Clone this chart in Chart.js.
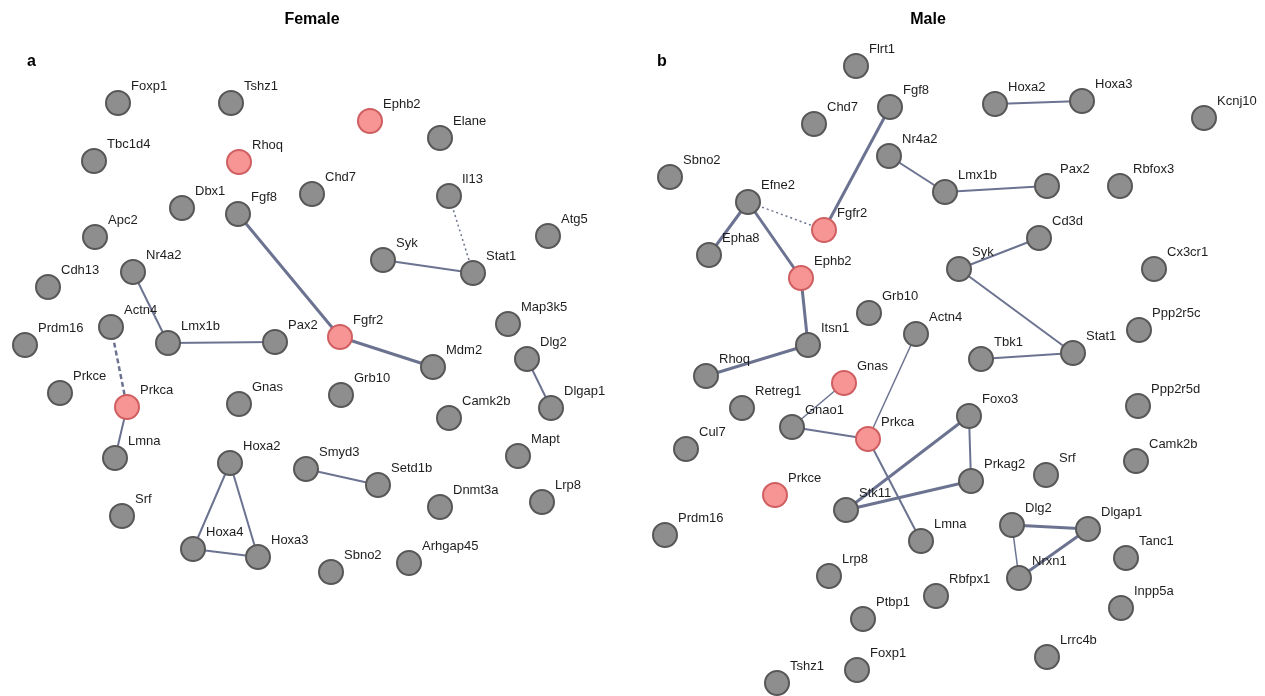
<!DOCTYPE html>
<html><head><meta charset="utf-8">
<script src="https://cdn.jsdelivr.net/npm/chart.js@4.4.0/dist/chart.umd.min.js"></script>
<style>
html,body{margin:0;padding:0;background:#fff;}
#wrap{position:relative;width:1265px;height:696px;overflow:hidden;}
.panel{position:absolute;top:0;}
</style></head><body>
<div id="wrap">
<div class="panel" style="left:0;"><canvas id="cf" width="632" height="696"></canvas></div>
<div class="panel" style="left:632px;"><canvas id="cm" width="633" height="696"></canvas></div>
</div>
<script>
// ---------- Female network (panel a) ----------
const femaleGenes = ["Foxp1","Tshz1","Tbc1d4","Rhoq","Ephb2","Elane","Dbx1","Fgf8","Chd7","Il13","Apc2","Atg5","Nr4a2","Syk","Stat1","Cdh13","Map3k5","Actn4","Prdm16","Lmx1b","Pax2","Fgfr2","Dlg2","Mdm2","Prkce","Prkca","Gnas","Grb10","Dlgap1","Camk2b","Lmna","Hoxa2","Smyd3","Mapt","Setd1b","Dnmt3a","Lrp8","Srf","Hoxa4","Hoxa3","Sbno2","Arhgap45"];
const femaleX = [118,231,94,239,370,440,182,238,312,449,95,548,133,383,473,48,508,111,25,168,275,340,527,433,60,127,239,341,551,449,115,230,306,518,378,440,542,122,193,258,331,409];
const femaleY = [103,103,161,162,121,138,208,214,194,196,237,236,272,260,273,287,324,327,345,343,342,337,359,367,393,407,404,395,408,418,458,463,469,456,485,507,502,516,549,557,572,563];
const femaleHighlighted = ["Rhoq","Ephb2","Fgfr2","Prkca"];
const femaleEdges = [
  ["Fgf8","Fgfr2","thick"],["Fgfr2","Mdm2","thick"],["Nr4a2","Lmx1b","solid"],["Lmx1b","Pax2","solid"],
  ["Il13","Stat1","dot"],["Syk","Stat1","solid"],["Actn4","Prkca","dash"],["Prkca","Lmna","solid"],
  ["Dlg2","Dlgap1","solid"],["Hoxa2","Hoxa4","solid"],["Hoxa2","Hoxa3","solid"],["Hoxa4","Hoxa3","solid"],
  ["Smyd3","Setd1b","solid"]
];

// ---------- Male network (panel b) ----------
const maleGenes = ["Flrt1","Fgf8","Chd7","Hoxa2","Hoxa3","Kcnj10","Nr4a2","Sbno2","Lmx1b","Pax2","Rbfox3","Efne2","Fgfr2","Epha8","Cd3d","Ephb2","Syk","Cx3cr1","Grb10","Actn4","Ppp2r5c","Itsn1","Stat1","Tbk1","Rhoq","Gnas","Retreg1","Ppp2r5d","Foxo3","Gnao1","Prkca","Cul7","Camk2b","Srf","Prkag2","Prkce","Stk11","Prdm16","Dlg2","Dlgap1","Lmna","Nrxn1","Tanc1","Lrp8","Rbfpx1","Inpp5a","Ptbp1","Lrrc4b","Foxp1","Tshz1"];
const maleX = [856,890,814,995,1082,1204,889,670,945,1047,1120,748,824,709,1039,801,959,1154,869,916,1139,808,1073,981,706,844,742,1138,969,792,868,686,1136,1046,971,775,846,665,1012,1088,921,1019,1126,829,936,1121,863,1047,857,777];
const maleY = [66,107,124,104,101,118,156,177,192,186,186,202,230,255,238,278,269,269,313,334,330,345,353,359,376,383,408,406,416,427,439,449,461,475,481,495,510,535,525,529,541,578,558,576,596,608,619,657,670,683];
const maleHighlighted = ["Fgfr2","Ephb2","Gnas","Prkca","Prkce"];
const maleEdges = [
  ["Fgf8","Fgfr2","thick"],["Nr4a2","Lmx1b","solid"],["Lmx1b","Pax2","solid"],["Hoxa2","Hoxa3","solid"],
  ["Efne2","Epha8","thick"],["Efne2","Fgfr2","dot"],["Efne2","Ephb2","thick"],["Ephb2","Itsn1","thick"],
  ["Itsn1","Rhoq","thick"],["Syk","Cd3d","solid"],["Syk","Stat1","solid"],["Tbk1","Stat1","solid"],
  ["Actn4","Prkca","thin"],["Gnas","Gnao1","thin"],["Gnao1","Prkca","solid"],["Prkca","Lmna","solid"],
  ["Foxo3","Stk11","thick"],["Foxo3","Prkag2","solid"],["Prkag2","Stk11","thick"],
  ["Dlg2","Dlgap1","thick"],["Dlg2","Nrxn1","thin"],["Nrxn1","Dlgap1","thick"]
];

const EDGE_COLOR = "#6c7390";
const edgeStyle = {
  thick:{w:3,dash:[]}, solid:{w:2,dash:[]}, thin:{w:1.5,dash:[]}, dash:{w:2.5,dash:[5,3]}, dot:{w:1.5,dash:[2,3]}
};

const labelPlugin = {
  id:"netLabels",
  afterDatasetsDraw(chart, args, opts){
    const ctx = chart.ctx;
    const meta = chart.getDatasetMeta(0);
    const names = chart.data.datasets[0].names;
    ctx.save();
    ctx.font = "13px 'Liberation Sans', Arial, sans-serif";
    ctx.fillStyle = "#1e1e1e";
    ctx.textAlign = "left";
    ctx.textBaseline = "middle";
    meta.data.forEach((pt,i)=>{ ctx.fillText(names[i], pt.x+13, pt.y-17); });
    ctx.font = "bold 16px 'Liberation Sans', Arial, sans-serif";
    ctx.fillStyle = "#000";
    ctx.textAlign = "center";
    ctx.fillText(opts.title, opts.titleX, 20);
    ctx.textAlign = "left";
    ctx.fillText(opts.letter, opts.letterX, 62);
    ctx.restore();
  }
};

function buildChart(id, genes, xs, ys, hl, edges, xMin, xMax, title, titleX, letter, letterX){
  const idx = {};
  genes.forEach((g,i)=>idx[g]=i);
  const nodePts = genes.map((g,i)=>({x:xs[i], y:ys[i]}));
  const datasets = [{
    type:"scatter",
    names: genes,
    data: nodePts,
    pointRadius: 12,
    pointHoverRadius: 12,
    pointBorderWidth: 2,
    pointBackgroundColor: genes.map(g=>hl.includes(g)?"#f79494":"#8e8e8e"),
    pointBorderColor: genes.map(g=>hl.includes(g)?"#cf5f61":"#575757"),
    order: 0,
    clip: false
  }];
  edges.forEach(e=>{
    const a = idx[e[0]], b = idx[e[1]], s = edgeStyle[e[2]];
    datasets.push({
      type:"line",
      data:[{x:xs[a],y:ys[a]},{x:xs[b],y:ys[b]}],
      borderColor: EDGE_COLOR,
      borderWidth: s.w,
      borderDash: s.dash,
      pointRadius: 0,
      fill: false,
      tension: 0,
      order: 1,
      clip: false
    });
  });
  return new Chart(document.getElementById(id), {
    data:{datasets},
    options:{
      responsive:false,
      animation:false,
      events:[],
      layout:{padding:0, autoPadding:false},
      scales:{
        x:{type:"linear", min:xMin, max:xMax, display:false},
        y:{type:"linear", min:0, max:696, reverse:true, display:false}
      },
      plugins:{
        legend:{display:false},
        tooltip:{enabled:false},
        netLabels:{title, titleX, letter, letterX}
      }
    },
    plugins:[labelPlugin]
  });
}

buildChart("cf", femaleGenes, femaleX, femaleY, femaleHighlighted, femaleEdges, 0, 632, "Female", 312, "a", 27);
buildChart("cm", maleGenes, maleX, maleY, maleHighlighted, maleEdges, 632, 1265, "Male", 928-632, "b", 657-632);
</script>
</body></html>
